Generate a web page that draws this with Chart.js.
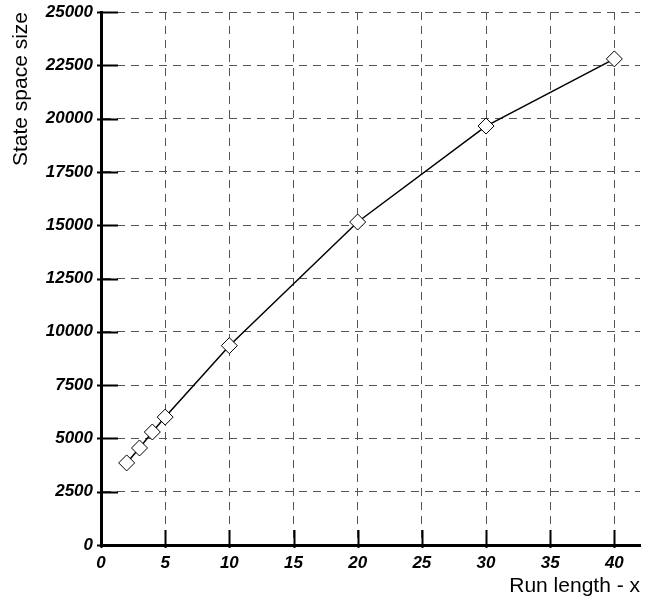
<!DOCTYPE html>
<html>
<head>
<meta charset="utf-8">
<script src="https://cdn.jsdelivr.net/npm/chart.js@4"></script>
<style>
  html, body { margin: 0; padding: 0; background: #fff; }
  #wrap { width: 651px; height: 600px; }
</style>
</head>
<body>
<div id="wrap"><canvas id="stateChart" width="651" height="600"></canvas></div>
<script>
// data
const runLength = [2, 3, 4, 5, 10, 20, 30, 40];
const stateSpace = [3850, 4550, 5300, 6000, 9350, 15150, 19650, 22800];

const xTitle = 'Run length - x';
const yTitle = 'State space size';

const tickFont = { family: 'Liberation Sans, Arial, sans-serif', size: 17, weight: 'bold', style: 'italic' };
const titleFont = { family: 'Liberation Sans, Arial, sans-serif', size: 21 };

// short solid tick marks that cross each axis
const axisTicks = {
    id: 'axisTicks',
    afterDraw(chart) {
        const c = chart.ctx;
        const xs = chart.scales.x, ys = chart.scales.y;
        const area = chart.chartArea;
        c.save();
        c.strokeStyle = '#000';
        c.lineWidth = 2;
        c.beginPath();
        ys.ticks.forEach(t => {
            const y = Math.round(ys.getPixelForValue(t.value)) + 0.5;
            c.moveTo(area.left - 4, y);
            c.lineTo(area.left + 17, y);
        });
        xs.ticks.forEach(t => {
            const x = Math.round(xs.getPixelForValue(t.value)) + 0.5;
            c.moveTo(x, area.bottom + 3);
            c.lineTo(x, area.bottom - 15);
        });
        c.stroke();
        c.restore();
    }
};

const ctx = document.getElementById('stateChart').getContext('2d');
const stateChart = new Chart(ctx, {
    type: 'scatter',
    data: {
        datasets: [{
            data: runLength.map((x, i) => ({ x: x, y: stateSpace[i] })),
            showLine: true,
            borderColor: '#000',
            borderWidth: 1.5,
            pointStyle: 'rectRot',
            pointRadius: 8,
            pointBackgroundColor: '#fff',
            pointBorderColor: '#000',
            pointBorderWidth: 1,
            tension: 0
        }]
    },
    options: {
        responsive: false,
        animation: false,
        layout: { padding: { top: 0, right: 11, bottom: 0, left: 0 } },
        plugins: { legend: { display: false }, tooltip: { enabled: false } },
        scales: {
            x: {
                type: 'linear',
                min: 0,
                max: 42,
                afterFit: s => { s.height = 55; },
                ticks: { stepSize: 5, includeBounds: false, color: '#000', font: tickFont, padding: 8, maxRotation: 0 },
                grid: { color: '#555', lineWidth: 1, drawTicks: false },
                border: { display: true, color: '#000', width: 3, dash: [8, 6] },
                title: { display: true, text: xTitle, align: 'end', color: '#000', font: titleFont, padding: { top: 4, bottom: 1 } }
            },
            y: {
                min: 0,
                max: 25000,
                afterFit: s => { s.width = 101; s.paddingTop = 12; },
                ticks: { stepSize: 2500, color: '#000', font: tickFont, padding: 8, callback: v => String(v) },
                grid: { color: '#555', lineWidth: 1, drawTicks: false },
                border: { display: true, color: '#000', width: 3, dash: [8, 6] },
                title: { display: true, text: yTitle, align: 'end', color: '#000', font: titleFont, padding: { top: 9, bottom: 4 } }
            }
        }
    },
    plugins: [axisTicks]
});
</script>
</body>
</html>
